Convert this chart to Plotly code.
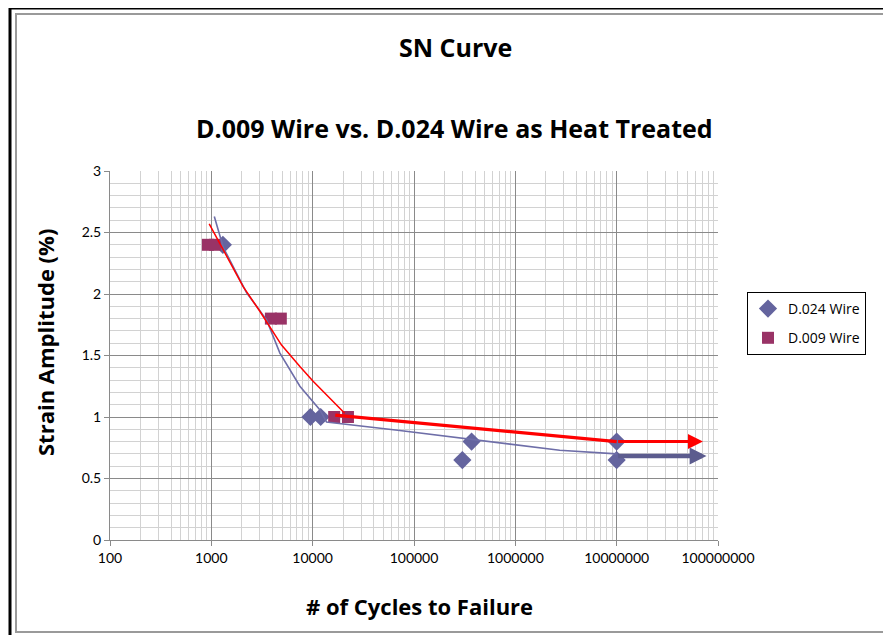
import numpy as np
import plotly.graph_objects as go

# measured points
D024_N = [1300, 9500, 12000, 300000, 370000, 10000000, 10000000]
D024_S = [2.4, 1.0, 1.0, 0.65, 0.8, 0.8, 0.65]
D009_N = [925, 1085, 3870, 4850, 16300, 22300]
D009_S = [2.4, 2.4, 1.8, 1.8, 1.0, 1.0]

# hand-fitted curves as they appear on the chart
BLUE_FIT_N = [1070, 1310, 2230, 3510, 4750, 7480, 11750, 13700, 72400, 225000, 330000, 2740000, 10000000]
BLUE_FIT_S = [2.63, 2.38, 2.01, 1.79, 1.52, 1.25, 1.06, 0.96, 0.89, 0.84, 0.82, 0.73, 0.70]
RED_FIT_N = [953, 2060, 3010, 4930, 7480, 10100, 20700]
RED_FIT_S = [2.57, 2.06, 1.86, 1.585, 1.41, 1.29, 1.03]
RED_TAIL_N = [16700, 10000000]
RED_TAIL_S = [1.015, 0.80]

# run-out arrows (start, end cycles; strain)
RUNOUT_RED = (10000000, 71000000, 0.80)
RUNOUT_BLUE = (10000000, 77000000, 0.683)

X_TICKS = [100, 1000, 10000, 100000, 1000000, 10000000, 100000000]
X_LABELS = ["100", "1000", "10000", "100000", "1000000", "10000000", "100000000"]

FONT = "Lato, 'Open Sans', sans-serif"
TFONT = "'Open Sans', sans-serif"
BLUE = "#64649E"
PLUM = "#993366"
MAJOR = "#8a8a8a"
MINOR = "#d2d2d2"

# the page body adds an 8px margin; geometry below is in page px
OFF = 8
W, H = 891 - OFF, 635 - OFF
X0, X1, Y0, Y1 = 110, 718, 171, 540          # plot area on the page
L, T = X0 - OFF, Y0 - OFF
R, B = W - (X1 - OFF), H - (Y1 - OFF)
PW, PH = X1 - X0, Y1 - Y0


def px(x):
    return (x - X0) / PW


def py(y):
    return (Y1 - y) / PH


fig = go.Figure()
fig.add_trace(go.Scatter(x=D024_N, y=D024_S, mode="markers", name="D.024 Wire",
                         legendgroup="a",
                         marker=dict(symbol="diamond", size=14, color=BLUE)))
fig.add_trace(go.Scatter(x=D009_N, y=D009_S, mode="markers", name="D.009 Wire",
                         legendgroup="b",
                         marker=dict(symbol="square", size=12, color=PLUM)))
fig.add_trace(go.Scatter(x=BLUE_FIT_N, y=BLUE_FIT_S, mode="lines", showlegend=False,
                         line=dict(color="#6e6ea8", width=1.6), hoverinfo="skip"))
fig.add_trace(go.Scatter(x=RED_FIT_N, y=RED_FIT_S, mode="lines", showlegend=False,
                         line=dict(color="#ff0000", width=1.5), hoverinfo="skip"))
fig.add_trace(go.Scatter(x=RED_TAIL_N, y=RED_TAIL_S, mode="lines", showlegend=False,
                         line=dict(color="#ff0000", width=3.2), hoverinfo="skip"))

for (n0, n1, s), col, w, sz in [(RUNOUT_BLUE, "#5c5c8e", 4.5, 0.75),
                                (RUNOUT_RED, "#ff0000", 3, 1.0)]:
    fig.add_annotation(x=np.log10(n1), y=s, ax=np.log10(n0), ay=s,
                       xref="x", yref="y", axref="x", ayref="y", text="",
                       showarrow=True, arrowhead=2, arrowsize=sz,
                       arrowwidth=w, arrowcolor=col)

# titles (page px centres)
TITLES = [("<b>SN Curve</b>", 455, 47, 0, 25),
          ("<b>D.009 Wire vs. D.024 Wire as Heat Treated</b>", 454, 128, 0, 25),
          ("<b>Strain Amplitude (%)</b>", 45, 343, -90, 22),
          ("<b># of Cycles to Failure</b>", 420, 606, 0, 22)]
for txt, tx, ty, ang, fs in TITLES:
    fig.add_annotation(text=txt, x=px(tx), y=py(ty), xref="paper", yref="paper",
                       xanchor="center", yanchor="middle", textangle=ang,
                       showarrow=False, font=dict(size=fs, family=TFONT, color="black"))

# chart frames: gray inner frame (left/top/bottom) and black outer edge (left/top)
fig.add_shape(type="path", xref="paper", yref="paper",
              path=f"M {px(891)},{py(14)} L {px(16)},{py(14)} L {px(16)},{py(632)} L {px(891)},{py(632)}",
              line=dict(color="#9a9a9a", width=2))
fig.add_shape(type="path", xref="paper", yref="paper",
              path=f"M {px(891)},{py(8)} L {px(10)},{py(8)} L {px(10)},{py(635)}",
              line=dict(color="black", width=3))

fig.update_xaxes(type="log", range=[2, 8], tickvals=X_TICKS, ticktext=X_LABELS,
                 showgrid=True, gridcolor=MAJOR, gridwidth=1,
                 minor=dict(dtick="D1", showgrid=True, gridcolor=MINOR, ticks=""),
                 showline=True, linecolor=MAJOR, ticks="outside", ticklen=5,
                 tickcolor=MAJOR, zeroline=False,
                 tickfont=dict(size=14, family=FONT, color="black"))
fig.update_yaxes(range=[0, 3], dtick=0.5, showgrid=True, gridcolor=MAJOR, gridwidth=1,
                 minor=dict(dtick=0.1, showgrid=True, gridcolor=MINOR, ticks=""),
                 showline=True, linecolor=MAJOR, ticks="outside", ticklen=5,
                 tickcolor=MAJOR, zeroline=False,
                 tickfont=dict(size=14, family=FONT, color="black"))

fig.update_layout(
    width=W, height=H, paper_bgcolor="white", plot_bgcolor="white",
    margin=dict(l=L, r=R, t=T, b=B),
    font=dict(family=FONT, color="black"),
    legend=dict(x=px(747), y=py(292), xanchor="left", yanchor="top",
                bordercolor="black", borderwidth=1, bgcolor="white",
                tracegroupgap=8, traceorder="grouped", itemwidth=30,
                font=dict(size=14, family=TFONT, color="black")),
)

fig.write_html("out.html")
